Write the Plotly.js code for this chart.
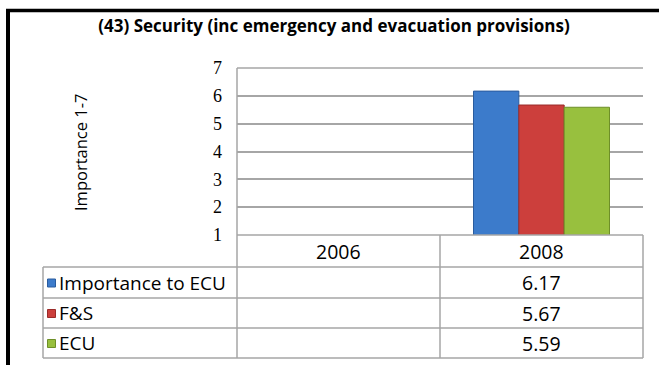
<!DOCTYPE html>
<html>
<head>
<meta charset="utf-8">
<script src="https://cdn.plot.ly/plotly-3.0.1.min.js"></script>
<style>html,body{margin:0;padding:0;background:#fff;}#chart{width:659px;height:365px;}</style>
</head>
<body>
<div id="chart"></div>
<script>
// ---- data ----
const chartTitle = "(43) Security (inc emergency and evacuation provisions)";
const yTitle = "Importance 1-7";
const years = ["2006", "2008"];
const seriesNames = ["Importance to ECU", "F&S", "ECU"];
const importanceToECU = [null, 6.17];
const fAndS = [null, 5.67];
const ecu = [null, 5.59];
const yTicks = [1, 2, 3, 4, 5, 6, 7];

// ---- styling / geometry ----
const W = 659, H = 365;
const L = 237, R = 643, T = 68, B = 235;
const colors = ["#3C7BCB", "#CC3F3C", "#98C03E"];
const lineColors = ["#2A5C9E", "#9A2B29", "#6E8F28"];
const gridCol = "#A6A6A6";
const px = x => (x - L) / (R - L);
const py = y => (B - y) / (B - T);
const allSeries = [importanceToECU, fAndS, ecu];

const traces = allSeries.map((vals, i) => ({
  type: "bar",
  name: seriesNames[i],
  x: years,
  y: vals,
  marker: {color: colors[i], line: {color: lineColors[i], width: 1}}
}));

const gl = (x0, y0, x1, y1, color, width) => ({type: "line", xref: "paper", yref: "paper", x0: px(x0), x1: px(x1), y0: py(y0), y1: py(y1), line: {color: color, width: width}, layer: "above"});
const rowLines = [267, 298, 328, 358];
const rowCenters = [282.5, 313, 343];
const shapes = [];
// outer frame (left & top thick black)
shapes.push(gl(8, 9, 8, 366, "#000", 4));
shapes.push(gl(6, 10.5, 660, 10.5, "#000", 3.5));
// plot frame: top gridline (7), left line, bottom (1)
shapes.push(Object.assign(gl(L, T, R, T, gridCol, 1.5), {layer: "below"}));
shapes.push(gl(L, T, L, B, gridCol, 1.5));
shapes.push(gl(L, B, R, B, gridCol, 1.5));
// table lines
rowLines.forEach(y => shapes.push(gl(43, y, 643, y, gridCol, 1.5)));
[237, 440, 643].forEach(x => shapes.push(gl(x, 235, x, 358, gridCol, 1.5)));
shapes.push(gl(43, 267, 43, 358, gridCol, 1.5));
// legend keys in table
rowCenters.forEach((c, i) => shapes.push({type: "rect", xref: "paper", yref: "paper", x0: px(47.5), x1: px(55.5), y0: py(c - 3.5), y1: py(c + 4.5),
  fillcolor: colors[i], line: {color: lineColors[i], width: 1}, layer: "above"}));

const annotations = [];
const tFont = {family: "Open Sans, sans-serif", size: 19, color: "#000"};
const cFont = {family: "Open Sans, sans-serif", size: 19.5, color: "#000"};
// header years
years.forEach((yr, j) => annotations.push({x: j, xref: "x", y: py(251), yref: "paper", text: yr, showarrow: false, font: cFont, xanchor: "center", yanchor: "middle"}));
// rows
seriesNames.forEach((nm, i) => {
  annotations.push({x: px(57), xref: "paper", y: py(rowCenters[i]), yref: "paper",
    text: nm.replace("&", "&amp;"), showarrow: false, font: tFont, xanchor: "left", yanchor: "middle"});
  years.forEach((yr, j) => {
    const v = allSeries[i][j];
    if (v !== null) annotations.push({x: j, xref: "x", y: py(rowCenters[i]), yref: "paper", text: v.toFixed(2), showarrow: false, font: cFont, xanchor: "center", yanchor: "middle"});
  });
});
// y-axis title
annotations.push({x: px(80), xref: "paper", y: py(153), yref: "paper", text: yTitle, textangle: -90, showarrow: false, font: {family: "Open Sans, sans-serif", size: 16.5, color: "#000"}, xanchor: "center", yanchor: "middle"});

const layout = {
  width: W, height: H,
  margin: {l: L, r: W - R, t: T, b: H - B, pad: 0},
  paper_bgcolor: "#fff", plot_bgcolor: "#fff",
  showlegend: false,
  barmode: "group", bargap: 0.33, bargroupgap: 0,
  title: {text: "<b>" + chartTitle + "</b>", x: 334 / W, xanchor: "center", xref: "container", y: 1 - 26 / H, yanchor: "middle", yref: "container", font: {family: "Open Sans, sans-serif", size: 17, color: "#000"}},
  xaxis: {type: "category", range: [-0.5, 1.5], showticklabels: false, showgrid: false, zeroline: false, showline: false, ticks: ""},
  yaxis: {range: [1, 7], tickvals: yTicks, ticktext: yTicks.map(String), showgrid: true, gridcolor: gridCol, gridwidth: 1.5, zeroline: false,
          showline: false, ticks: "", ticklabelstandoff: 14,
          tickfont: {family: "Liberation Serif, serif", size: 18, color: "#000"}},
  shapes: shapes,
  annotations: annotations
};

Plotly.newPlot("chart", traces, layout, {displayModeBar: false});
</script>
</body>
</html>
